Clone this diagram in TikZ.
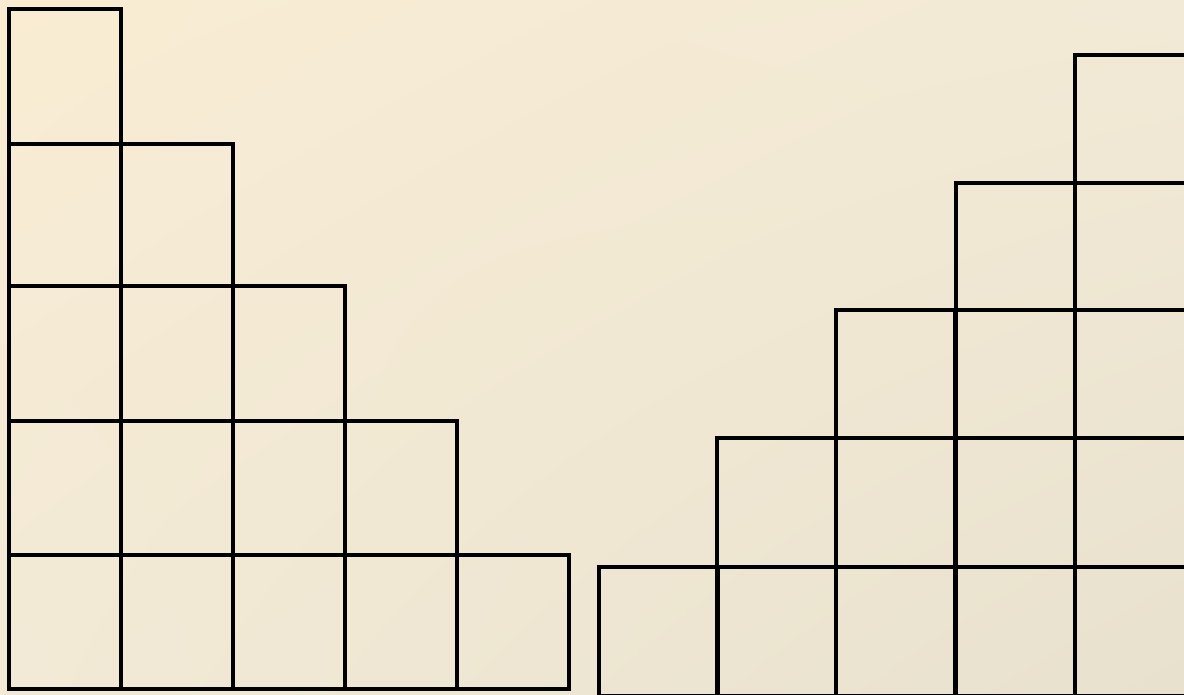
\documentclass[tikz,border=0pt]{standalone}
\usepackage{tikz}
\usetikzlibrary{shadings}

\definecolor{bgtl}{HTML}{F9ECD3}
\definecolor{bgbr}{HTML}{E8E1CD}
\definecolor{bgmid}{HTML}{F2EAD6}

\begin{document}
\begin{tikzpicture}[x=1pt, y=-1pt, cell/.style={line width=3.2pt, line join=miter}]
\useasboundingbox (0,0) rectangle (1184,694);
\clip (0,0) rectangle (1184,694);
\shade[upper left=bgtl, upper right=bgmid, lower left=bgmid, lower right=bgbr] (0,0) rectangle (1184,694);
% left staircase (columns get shorter to the right)
\foreach \x/\t in {9/9, 121/144, 233/286, 345/421, 457/555}
  \draw[cell] (\x,\t) rectangle ++(112,689-\t);
\foreach \y/\e in {144/233, 286/345, 421/457, 555/569}
  \draw[cell] (9,\y) -- (\e,\y);
% right staircase (columns get taller to the right)
\foreach \x/\t in {599/567, 717/438, 836/310, 956/183, 1075/55}
  \draw[cell] (\x,\t) rectangle ++(119,696-\t);
\foreach \y/\s in {567/599, 438/717, 310/836, 183/956}
  \draw[cell] (\s,\y) -- (1200,\y);
\end{tikzpicture}
\end{document}
